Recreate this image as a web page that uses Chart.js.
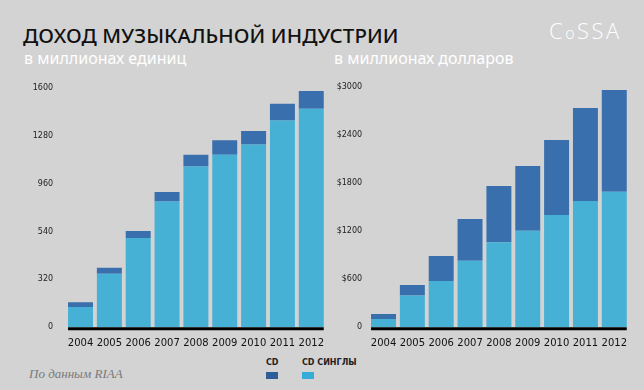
<!DOCTYPE html>
<html>
<head>
<meta charset="utf-8">
<script src="https://cdn.jsdelivr.net/npm/chart.js@4"></script>
<style>
  html, body { margin: 0; padding: 0; }
  body { width: 644px; height: 390px; background: #d3d3d3; position: relative; overflow: hidden; font-family: "Noto Sans", sans-serif; }
  .title { position: absolute; left: 23px; top: 21px; font-size: 20.5px; font-weight: 500; color: #111; white-space: nowrap; letter-spacing: 0.1px; }
  .sub { position: absolute; top: 47px; font-size: 16px; color: #fff; white-space: nowrap; }
  .logo { position: absolute; left: 549px; top: 15px; font-family: "Open Sans", sans-serif; font-weight: 300; font-size: 22px; color: #fff; letter-spacing: 2.5px; }
  .logo small { font-size: 16px; }
  .src { position: absolute; left: 29px; top: 366px; font-family: "Liberation Serif", serif; font-style: italic; font-size: 13px; color: #7a7a7a; }
  .leg { position: absolute; top: 358px; font-family: "DejaVu Sans", sans-serif; font-size: 8px; font-weight: bold; color: #222; }
  .leg i { display: block; width: 12px; height: 7px; margin-top: 5px; }
  canvas { position: absolute; }
</style>
</head>
<body>
<div class="title">ДОХОД МУЗЫКАЛЬНОЙ ИНДУСТРИИ</div>
<div class="sub" style="left:24px">в миллионах единиц</div>
<div class="sub" style="left:334px">в миллионах долларов</div>
<div class="logo">C<small>o</small>SSA</div>
<div class="src">По данным RIAA</div>
<div id="legend"></div>
<canvas id="units" width="326" height="290" style="left:0;top:70px"></canvas>
<canvas id="dollars" width="324" height="290" style="left:320px;top:70px"></canvas>
<script>
const years = ['2004', '2005', '2006', '2007', '2008', '2009', '2010', '2011', '2012'];

// в миллионах единиц
const unitsSingles = [135, 357, 596, 840, 1075, 1152, 1221, 1381, 1460];
const unitsCD = [33, 40, 47, 64, 77, 98, 91, 113, 118];
const unitsTicks = ['0', '320', '540', '960', '1280', '1600'];

// в миллионах долларов
const dollarsSingles = [104, 395, 578, 831, 1060, 1205, 1400, 1575, 1691];
const dollarsCD = [62, 133, 311, 519, 702, 806, 935, 1159, 1267];
const dollarsTicks = ['0', '$600', '$1200', '$1800', '$2400', '$3000'];

const seriesNames = ['CD', 'CD СИНГЛЫ'];
const darkBlue = '#3a6fae';
const lightBlue = '#46b0d5';

// legend
const legend = document.getElementById('legend');
const legendColors = ['#2f5e97', '#36acd8'];
const legendLeft = [266, 302];
seriesNames.forEach(function(name, i) {
  const d = document.createElement('div');
  d.className = 'leg';
  d.style.left = legendLeft[i] + 'px';
  d.innerHTML = name + '<i style="background:' + legendColors[i] + '"></i>';
  legend.appendChild(d);
});

// thick black baseline under the bars
const baseline = {
  id: 'baseline',
  afterDatasetsDraw(chart) {
    const ctx = chart.ctx;
    const meta = chart.getDatasetMeta(0);
    const first = meta.data[0];
    const last = meta.data[meta.data.length - 1];
    const y = chart.chartArea.bottom + 1.5;
    ctx.save();
    ctx.strokeStyle = '#000';
    ctx.lineWidth = 3;
    ctx.beginPath();
    ctx.moveTo(first.x - first.width / 2, y);
    ctx.lineTo(last.x + last.width / 2, y);
    ctx.stroke();
    ctx.restore();
  }
};

function makeChart(id, singles, cd, max, step, tickLabels, yWidth, padRight, tickPad) {
  return new Chart(document.getElementById(id), {
    type: 'bar',
    data: {
      labels: years,
      datasets: [
        { label: seriesNames[1], data: singles, backgroundColor: lightBlue, barPercentage: 0.866, categoryPercentage: 1 },
        { label: seriesNames[0], data: cd, backgroundColor: darkBlue, barPercentage: 0.866, categoryPercentage: 1 }
      ]
    },
    options: {
      responsive: false,
      animation: false,
      layout: { padding: { top: 16.7, right: padRight, left: 0, bottom: 0 } },
      plugins: { legend: { display: false }, tooltip: { enabled: false } },
      scales: {
        x: {
          stacked: true,
          grid: { display: false },
          border: { display: false },
          ticks: { color: '#111', padding: 2, font: { family: 'DejaVu Sans', size: 10 }, maxRotation: 0, autoSkip: false },
          afterFit(scale) { scale.height = 32.7; }
        },
        y: {
          stacked: true,
          min: 0,
          max: max,
          grid: { display: false, drawTicks: false },
          border: { display: false },
          ticks: {
            stepSize: step,
            padding: tickPad,
            color: '#222',
            font: { family: 'DejaVu Sans', size: 8 },
            callback: function(v, i) { return tickLabels[i]; }
          },
          afterFit(scale) { scale.width = yWidth; }
        }
      }
    },
    plugins: [baseline]
  });
}

makeChart('units', unitsSingles, unitsCD, 1600, 320, unitsTicks, 66.1, 0, 13);
makeChart('dollars', dollarsSingles, dollarsCD, 3000, 600, dollarsTicks, 49.1, 15.3, 7);
</script>
</body>
</html>
